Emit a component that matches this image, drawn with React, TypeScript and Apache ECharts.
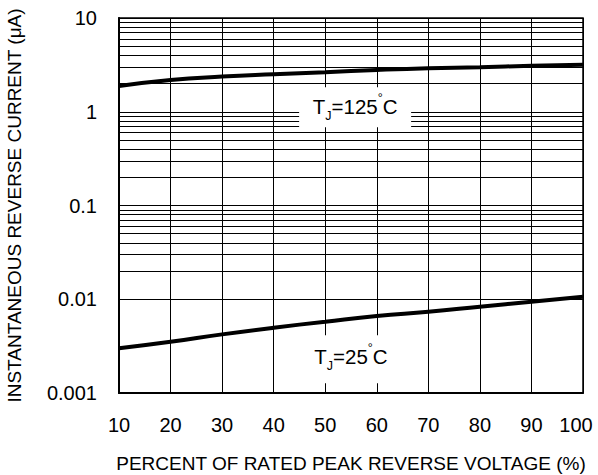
import React, { useEffect, useRef } from "react";
import * as echarts from "echarts";

const xValues = [10, 20, 30, 40, 50, 60, 70, 80, 90, 100];
const tj125 = [1.88, 2.18, 2.37, 2.51, 2.64, 2.79, 2.91, 2.98, 3.1, 3.18];
const tj25 = [0.003, 0.00352, 0.00422, 0.00497, 0.00576, 0.00663, 0.00737, 0.00833, 0.00942, 0.01065];
const yTickLabels = ["0.001", "0.01", "0.1", "1", "10"];
const minorGridValues = [
  0.002, 0.003, 0.004, 0.005, 0.006, 0.007, 0.008, 0.009,
  0.02, 0.03, 0.04, 0.05, 0.06, 0.07, 0.08, 0.09,
  0.2, 0.3, 0.4, 0.5, 0.6, 0.7, 0.8, 0.9,
  2, 3, 4, 5, 6, 7, 8, 9,
];
const label125 = { x: 55.8, y: 1.12, temp: "125" };
const label25 = { x: 55, y: 0.00229, temp: "25" };

const FONT = "'Liberation Sans', Arial, Helvetica, sans-serif";

function tempLabel(temp: string, dy: number) {
  return {
    show: true,
    position: "inside",
    offset: [0, dy],
    formatter: `{t|T}{s|J}{t|=${temp}}{d|°}{t|C}`,
    rich: {
      t: { fontSize: 20.5, fontFamily: FONT, color: "#000", lineHeight: 24, verticalAlign: "bottom" },
      s: { fontSize: 12.5, fontFamily: FONT, color: "#000", lineHeight: 24, verticalAlign: "bottom", padding: [0, 0, -5, 0] },
      d: { fontSize: 12.5, fontFamily: FONT, color: "#000", lineHeight: 24, verticalAlign: "top", padding: [-2, 0, 0, 0] },
    },
  };
}

export default function App() {
  const ref = useRef<HTMLDivElement>(null);
  useEffect(() => {
    document.body.style.margin = "0";
    const chart = echarts.init(ref.current!, undefined, { renderer: "svg" });
    chart.setOption({
      animation: false,
      backgroundColor: "#fff",
      grid: {
        left: 119,
        top: 18,
        right: 15,
        bottom: 82,
        containLabel: false,
        outerBoundsMode: "none",
        show: true,
        borderColor: "#000",
        borderWidth: 1.5,
      },
      xAxis: {
        type: "value",
        min: 10,
        max: 100,
        interval: 10,
        name: "PERCENT OF RATED PEAK REVERSE VOLTAGE (%)",
        nameLocation: "middle",
        nameGap: 61,
        nameTextStyle: { fontSize: 19, fontFamily: FONT, color: "#000" },
        axisLine: { show: true, lineStyle: { color: "#000", width: 2 } },
        axisTick: { show: false },
        axisLabel: {
          fontSize: 20,
          fontFamily: FONT,
          color: "#000",
          margin: 22,
          formatter: (v: number) => (v === 100 ? `{last|${v}}` : `${v}`),
          rich: {
            last: { fontSize: 20, fontFamily: FONT, color: "#000", padding: [0, 14, 0, 0] },
          },
        },
        splitLine: { show: true, lineStyle: { color: "#000", width: 1 } },
      },
      yAxis: {
        type: "log",
        logBase: 10,
        min: 0.001,
        max: 10,
        name: "INSTANTANEOUS REVERSE CURRENT (μA)",
        nameLocation: "middle",
        nameGap: 95,
        nameTextStyle: { fontSize: 19, fontFamily: FONT, color: "#000" },
        axisLine: { show: true, lineStyle: { color: "#000", width: 2 } },
        axisTick: { show: false },
        axisLabel: {
          fontSize: 20,
          fontFamily: FONT,
          color: "#000",
          margin: 22,
          formatter: (v: number) => yTickLabels[Math.round(Math.log10(v)) + 3] ?? "",
        },
        splitLine: { show: true, lineStyle: { color: "#000", width: 1 } },
        minorTick: { show: false },
        minorSplitLine: { show: false },
      },
      series: [
        {
          type: "line",
          name: "grid",
          data: [],
          silent: true,
          markLine: {
            silent: true,
            symbol: "none",
            label: { show: false },
            lineStyle: { color: "#000", width: 1, type: "solid" },
            data: minorGridValues.map((v) => ({ yAxis: v })),
          },
        },
        {
          type: "line",
          name: "TJ=125",
          data: xValues.map((x, i) => [x, tj125[i]]),
          smooth: true,
          symbol: "none",
          lineStyle: { color: "#000", width: 4 },
          z: 5,
        },
        {
          type: "line",
          name: "TJ=25",
          data: xValues.map((x, i) => [x, tj25[i]]),
          smooth: true,
          symbol: "none",
          lineStyle: { color: "#000", width: 4 },
          z: 5,
        },
        {
          type: "line",
          name: "labels",
          data: [],
          z: 10,
          silent: true,
          markPoint: {
            silent: true,
            z: 10,
            data: [
              {
                coord: [label125.x, label125.y],
                symbol: "rect",
                symbolSize: [112, 40],
                itemStyle: { color: "#fff", borderWidth: 0 },
                label: tempLabel(label125.temp, -2),
              },
              {
                coord: [label25.x, label25.y],
                symbol: "rect",
                symbolSize: [92, 48],
                itemStyle: { color: "#fff", borderWidth: 0 },
                label: tempLabel(label25.temp, -4),
              },
            ],
          },
        },
      ],
    });
    return () => chart.dispose();
  }, []);
  return <div ref={ref} style={{ width: 598, height: 475, position: "absolute", left: 0, top: 0 }} />;
}
